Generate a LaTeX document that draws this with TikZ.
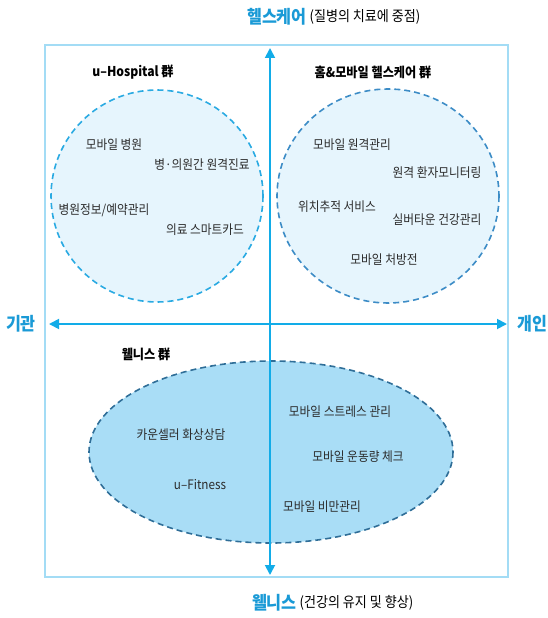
\documentclass[tikz,border=0pt]{standalone}
\usepackage{fontspec}
\newfontfamily\kr[FakeStretch=0.9]{Noto Sans CJK KR}
\usetikzlibrary{arrows.meta}
\definecolor{axisblue}{HTML}{12ACE8}
\definecolor{framebl}{HTML}{A3DCF5}
\definecolor{titleblue}{HTML}{1A9AD6}
\definecolor{lightfill}{HTML}{E6F5FD}
\definecolor{ellfill}{HTML}{A9DDF6}
\definecolor{dashcyan}{HTML}{2AAAE2}
\definecolor{dashsteel}{HTML}{3C8CC6}
\definecolor{dashdark}{HTML}{2F6E98}
\definecolor{txt}{HTML}{2B2B2B}
\tikzset{
  item/.style={font=\kr\fontsize{13}{15}\selectfont, text=txt, inner sep=0pt},
  grouptitle/.style={font=\kr\bfseries\fontsize{13.5}{15}\selectfont, text=black, inner sep=0pt},
  axislabel/.style={font=\kr\bfseries\fontsize{18}{20}\selectfont, text=titleblue, inner sep=0pt},
  sublabel/.style={font=\kr\fontsize{14.5}{16}\selectfont, text=black, inner sep=0pt},
  axis/.style={draw=axisblue, line width=1.8pt, {Triangle[length=10pt,width=10pt]}-{Triangle[length=10pt,width=10pt]}},
  grp/.style={line width=1.6pt, dash pattern=on 6pt off 4pt}
}
\begin{document}
\begin{tikzpicture}[x=1pt,y=-1pt]
\useasboundingbox (0,0) rectangle (547,618);
% frame
\draw[framebl, line width=2pt] (45,45) rectangle (508,577);
% group shapes
\draw[grp, draw=dashcyan, fill=lightfill] (157,196) ellipse [x radius=106, y radius=106];
\draw[grp, draw=dashsteel, fill=lightfill] (388,196) ellipse [x radius=111, y radius=107];
\draw[grp, draw=dashdark, fill=ellfill] (271,452) ellipse [x radius=182, y radius=91];
% axes
\coordinate (top) at (270,48);
\coordinate (bot) at (270,575);
\coordinate (lft) at (49,324);
\coordinate (rgt) at (507,324);
\draw[axis] (bot) -- (top);
\draw[axis] (lft) -- (rgt);
% axis labels
\node[axislabel, anchor=east] (hc) at (307,17) {헬스케어};
\node[sublabel, anchor=west] (hcs) at (hc.east) {\,(질병의 치료에 중점)};
\node[axislabel, anchor=east] (wl) at (297,603) {웰니스};
\node[sublabel, anchor=west] (wls) at (wl.east) {\,(건강의 유지 및 향상)};
\node[axislabel] (gi) at (21,324) {기관};
\node[axislabel] (gn) at (532,324) {개인};
% group titles
\node[grouptitle] (t1) at (133,72) {u–Hospital 群};
\node[grouptitle] (t2) at (373,72) {홈\&모바일 헬스케어 群};
\node[grouptitle] (t3) at (146,354) {웰니스 群};
% left circle items
\node[item] (a1) at (114,145) {모바일 병원};
\node[item] (a2) at (202,165) {병·의원간 원격진료};
\node[item] (a3) at (104,210) {병원정보/예약관리};
\node[item] (a4) at (205,230) {의료 스마트카드};
% right circle items
\node[item] (b1) at (352,145) {모바일 원격관리};
\node[item] (b2) at (437,173) {원격 환자모니터링};
\node[item] (b3) at (337,207) {위치추적 서비스};
\node[item] (b4) at (437,220) {실버타운 건강관리};
\node[item] (b5) at (384,260) {모바일 처방전};
% bottom ellipse items
\node[item] (c1) at (181,435) {카운셀러 화상상담};
\node[item] (c2) at (200,485) {u–Fitness};
\node[item] (c3) at (340,412) {모바일 스트레스 관리};
\node[item] (c4) at (358,457) {모바일 운동량 체크};
\node[item] (c5) at (322,507) {모바일 비만관리};
\end{tikzpicture}
\end{document}
